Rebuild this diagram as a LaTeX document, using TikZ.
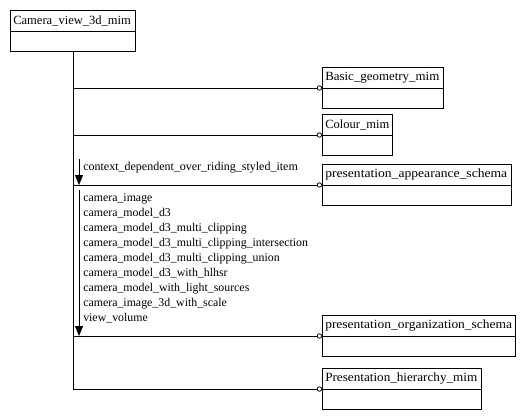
\documentclass[tikz,border=0pt]{standalone}
\usepackage{fontspec}
\usepackage{graphicx}
\setmainfont{Liberation Serif}
\usetikzlibrary{arrows.meta}
\newcommand{\hsc}[2]{\scalebox{#1}[1]{#2}}
\tikzset{
  x=0.75pt, y=-0.75pt,
  box/.style={draw, line width=0.75pt, rectangle, inner sep=0pt, anchor=north west},
  hdr/.style={anchor=west, inner sep=0pt, font=\fontsize{9.4}{11.25}\selectfont},
  lbl/.style={anchor=north west, inner sep=0pt, align=left, font=\fontsize{8.9}{11.25}\selectfont},
  conn/.style={line width=0.75pt, -{Circle[open, length=3.9pt, line width=0.6pt]}},
  flow/.style={line width=0.75pt, -{Triangle[length=7.5pt, width=6pt]}},
  trunk/.style={line width=0.75pt}
}
\begin{document}
\begin{tikzpicture}
\useasboundingbox (0,0) rectangle (525,419);
% boxes
\node[box, minimum width=125*0.75pt, minimum height=41*0.75pt] (cam) at (10,10) {};
\node[box, minimum width=121*0.75pt, minimum height=41*0.75pt] (bg) at (322,67) {};
\node[box, minimum width=70*0.75pt, minimum height=41*0.75pt] (col) at (322,114) {};
\node[box, minimum width=189*0.75pt, minimum height=41*0.75pt] (pas) at (322,164) {};
\node[box, minimum width=193*0.75pt, minimum height=41*0.75pt] (pos) at (322,315) {};
\node[box, minimum width=159*0.75pt, minimum height=41*0.75pt] (phm) at (322,368) {};
% dividers
\foreach \b in {cam,bg,col,pas,pos,phm}{
  \draw[line width=0.75pt] (\b.west) -- (\b.east);
}
% headers
\node[hdr] (camt) at (13,20.5) {Camera\_view\_3d\_mim};
\node[hdr] (bgt) at (325,77.5) {\hsc{1.03}{Basic\_geometry\_mim}};
\node[hdr] (colt) at (325,124.5) {Colour\_mim};
\node[hdr] (past) at (325,174.5) {\hsc{1.085}{presentation\_appearance\_schema}};
\node[hdr] (post) at (325,325.5) {\hsc{1.075}{presentation\_organization\_schema}};
\node[hdr] (phmt) at (325,378.5) {\hsc{1.05}{Presentation\_hierarchy\_mim}};
% trunk
\coordinate (tend) at (cam.south |- phm.west);
\draw[trunk] (cam.south) -- (tend);
% connectors
\foreach \b in {bg,col,pas,pos,phm}{
  \draw[conn] (cam.south |- \b.west) -- (\b.west);
}
% flow arrows
\coordinate (f1s) at (79,159);
\coordinate (f1e) at (f1s |- pas.west);
\draw[flow] (f1s) -- (f1e);
\node[hdr, font=\fontsize{9.0}{11.25}\selectfont] (f1l) at (83,167.5) {context\_dependent\_over\_riding\_styled\_item};
\coordinate (f2s) at (79,190);
\coordinate (f2e) at (f2s |- pos.west);
\draw[flow] (f2s) -- (f2e);
\node[lbl] (f2l) at (83,193.5) {camera\_image\\camera\_model\_d3\\camera\_model\_d3\_multi\_clipping\\camera\_model\_d3\_multi\_clipping\_intersection\\camera\_model\_d3\_multi\_clipping\_union\\camera\_model\_d3\_with\_hlhsr\\camera\_model\_with\_light\_sources\\camera\_image\_3d\_with\_scale\\view\_volume};
\end{tikzpicture}
\end{document}
